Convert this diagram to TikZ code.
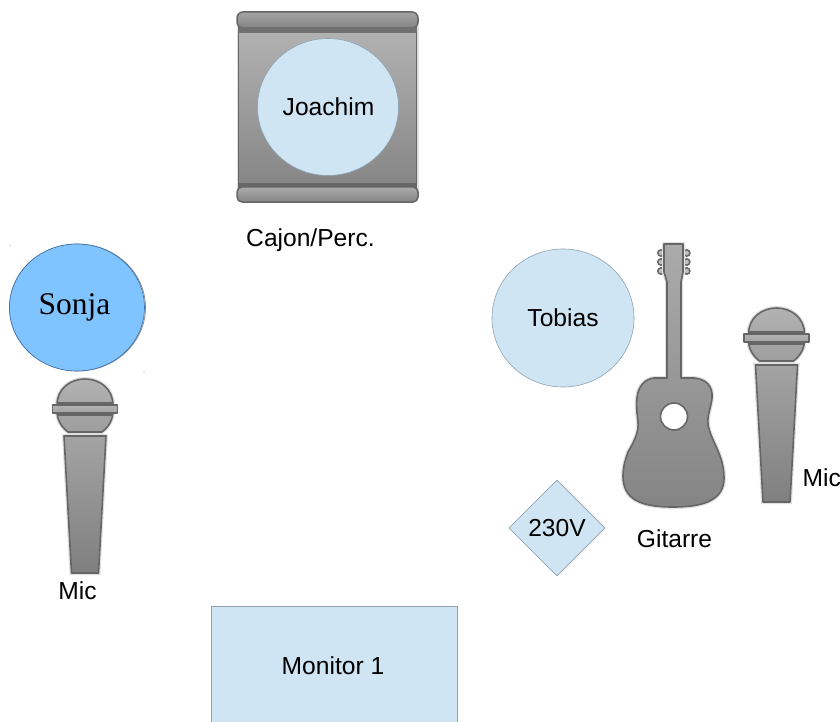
\documentclass[tikz,border=0pt]{standalone}
\usepackage{fontspec}
\setmainfont{Liberation Sans}
\newfontfamily\serifface{Liberation Serif}
\usetikzlibrary{shapes.geometric}
\definecolor{paleblue}{HTML}{CFE5F3}
\definecolor{paleedge}{HTML}{8FA3B0}
\definecolor{sonjablue}{HTML}{80C4FF}
\definecolor{sonjaedge}{HTML}{3A6EA8}
\definecolor{metaledge}{HTML}{666666}
\tikzset{
  person/.style={draw=paleedge,line width=.6pt,fill=paleblue,inner sep=0pt,font=\fontsize{24.6}{25}\selectfont,text=black},
  plate/.style={draw=paleedge,line width=.6pt,fill=paleblue,inner sep=0pt,font=\fontsize{24.6}{25}\selectfont,text=black},
  caption/.style={inner sep=0pt,font=\fontsize{24.6}{25}\selectfont,text=black},
  metal/.style={preaction={draw=black!12,line width=4pt},draw=metaledge,line width=1.6pt,line join=round,top color=black!36,bottom color=black!50},
  metalband/.style={draw=metaledge,line width=1.5pt,line join=round,top color=black!33,bottom color=black!46},
  micro/.pic={
    \path[metal,top color=black!30,bottom color=black!38] (-28,26) .. controls (-28,10) and (-15,0) .. (0,0) .. controls (15,0) and (28,10) .. (28,26) -- (28,34) .. controls (27,44) and (21,50) .. (17,53) -- (-17,53) .. controls (-21,50) and (-27,44) .. (-28,34) -- cycle;
    \fill[metaledge] (-28,23) rectangle (28,26);
    \fill[metaledge] (-28,34) rectangle (28,37);
    \path[metalband,top color=black!30,bottom color=black!36] (-32.5,26) rectangle (32.5,34);
    \path[metal] (-21,57) -- (21,57) -- (13.5,194) -- (-13.5,194) -- cycle;
  }
}
\begin{document}
\begin{tikzpicture}[x=1pt,y=-1pt]
\useasboundingbox (0,0) rectangle (840,722);
\clip (0,0) rectangle (840,722);
\fill[white] (0,0) rectangle (840,722);

% cajon
\path[metal,top color=black!30,bottom color=black!48] (238.5,28) rectangle (416.5,190);
\path[metalband,top color=black!36,bottom color=black!48,rounded corners=6pt] (237,12) rectangle (418,28);
\fill[black!56] (238,27) rectangle (417,33);
\fill[black!60] (238,183) rectangle (417,187);
\path[metalband,top color=black!33,bottom color=black!48,rounded corners=5pt] (237,187) rectangle (418,202);
\node[person,ellipse,minimum width=141pt,minimum height=137pt] (joachim) at (328,107) {\hspace{1pt}Joachim};
\node[caption] (cajon) at (310.5,240) {Cajon/Perc.};

% sonja
\draw[black!45,line width=.8pt] (77.5,307.5) ellipse [x radius=68,y radius=63.5];
\node[ellipse,draw=sonjaedge,line width=.6pt,fill=sonjablue,inner sep=0pt,minimum width=135pt,minimum height=127pt,font=\fontsize{31.5}{31.5}\selectfont\serifface,text=black] (sonja) at (77,307.5) {\raisebox{2pt}{\hspace{-5pt}Sonja}};
\fill[sonjaedge] (10,245) circle (.5pt);
\fill[sonjaedge] (144,372) circle (.5pt);
\pic at (85,379) {micro};
\node[caption] (micleft) at (77.5,591) {Mic};

% tobias
\node[person,ellipse,minimum width=142pt,minimum height=138pt] (tobias) at (563,318) {Tobias};

% guitar
\foreach \tuney in {253,262,271}{
  \draw[metaledge,line width=1.5pt,fill=black!25] (661,\tuney) circle (3.2pt);
  \draw[metaledge,line width=1.5pt,fill=black!25] (686.7,\tuney) circle (3.2pt);
}
\path[metal,top color=black!33,bottom color=black!48]
  (664,244) -- (683,244) -- (683,272) -- (681,282) -- (681,378)
  -- (694,378) .. controls (706,379) and (713,386) .. (712,398)
  .. controls (711,408) and (707,415) .. (708,424)
  .. controls (710,440) and (724,454) .. (724,478)
  .. controls (724,499) and (706,507) .. (673,507)
  .. controls (640,507) and (623,499) .. (623,476)
  .. controls (623,466) and (626,458) .. (628,452)
  .. controls (634,442) and (639,432) .. (638,422)
  .. controls (637,412) and (636,406) .. (637,398)
  .. controls (638,386) and (645,379) .. (654,378)
  -- (667,378) -- (667,282) -- (664,272) -- cycle;
\draw[metaledge,line width=1.6pt,fill=white] (674,416.5) circle (13.5pt);
\node[caption] (gitarre) at (674.5,539) {Gitarre};

% right mic
\pic at (776.5,308) {micro};
\node[caption,anchor=west] (micright) at (802.5,478) {Mic};

% power
\node[plate,diamond,aspect=1,minimum width=96pt,minimum height=96pt] (power) at (557,528) {230V};

% monitor
\draw[draw=paleedge,line width=.6pt,fill=paleblue] (211.5,606) rectangle (457.5,730);
\node[caption] (monitor) at (333,666) {Monitor 1};
\end{tikzpicture}
\end{document}
